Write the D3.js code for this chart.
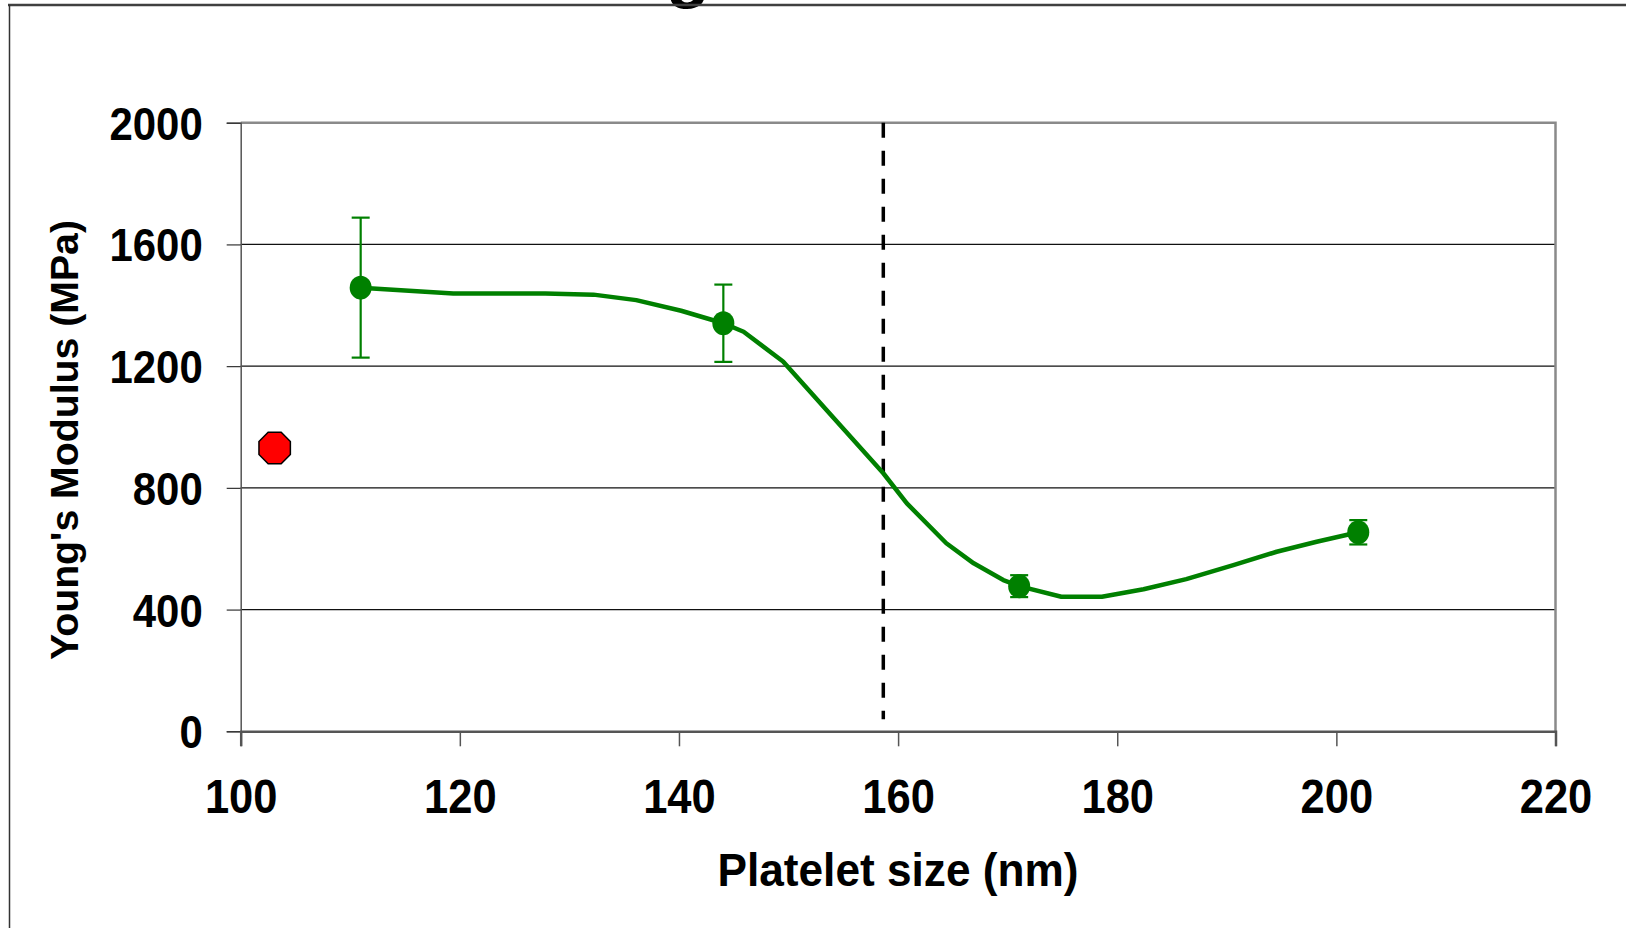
<!DOCTYPE html>
<html>
<head>
<meta charset="utf-8">
<script src="https://cdn.jsdelivr.net/npm/d3@7/dist/d3.min.js"></script>
<style>
  body { margin: 0; background: #fff; }
  text { font-family: "Liberation Sans", Arial, sans-serif; font-weight: bold; fill: #000; }
</style>
</head>
<body>
<div id="chart"></div>
<script>
// measured points (platelet size in nm, modulus in MPa)
var sizes = [110.95, 144.05, 171.05, 202.0];
var moduli = [1458, 1341, 477, 654];
var errors = [230, 127, 36, 40];

// single reference sample (red octagon)
var refSizes = [103.1];
var refModuli = [931];

// smoothed fit line
var fitSizes = [110.95, 119.4, 127.8, 132.2, 136.1, 140.2, 144.05, 145.9, 149.5, 154.1, 158.65, 160.8, 164.4, 166.9, 169.6, 171.05, 174.9, 178.6, 182.4, 186.3, 190.6, 194.55, 198.2, 202.0];
var fitModuli = [1458, 1439, 1439, 1435, 1417, 1382, 1341, 1313, 1215, 1030, 848, 749, 618, 552, 497, 477, 442, 442, 467, 500, 546, 590, 623, 654];

// dashed threshold line
var thresholdSize = 158.65;
var thresholdRange = [40, 2000];

var xTicks = [100, 120, 140, 160, 180, 200, 220];
var yTicks = [0, 400, 800, 1200, 1600, 2000];

var width = 1626, height = 928;
var plotLeft = 240.7, plotRight = 1555.5, plotTop = 122.7, plotBottom = 731.3;

var svg = d3.select("#chart")
            .append("svg")
            .attr("width", width)
            .attr("height", height);

svg.append("rect").attr("width", width).attr("height", height).attr("fill", "#fff");

var x = d3.scaleLinear().domain([100, 220]).range([plotLeft, plotRight]);
var y = d3.scaleLinear().domain([0, 2000]).range([plotBottom, plotTop]);

// clipped title glyph poking in at the top of the frame
svg.append("text")
   .attr("x", 688)
   .attr("y", -6)
   .attr("text-anchor", "middle")
   .style("font-size", "72px")
   .text("g");

// outer frame (top and left edges visible)
svg.append("line").attr("x1", 8).attr("x2", width).attr("y1", 5).attr("y2", 5)
   .attr("stroke", "#404040").attr("stroke-width", 2.5);
svg.append("line").attr("x1", 9.5).attr("x2", 9.5).attr("y1", 5).attr("y2", height)
   .attr("stroke", "#333").attr("stroke-width", 1.5);

// horizontal gridlines
svg.append("g")
   .selectAll("line")
   .data(yTicks.filter(function(d) { return d > 0 && d < 2000; }))
   .enter()
   .append("line")
   .attr("x1", plotLeft).attr("x2", plotRight)
   .attr("y1", function(d) { return y(d); })
   .attr("y2", function(d) { return y(d); })
   .attr("stroke", "#111")
   .attr("stroke-width", 1.2);

// plot area border: top and right in grey
svg.append("path")
   .attr("d", "M" + plotLeft + "," + plotTop + "H" + plotRight + "V" + plotBottom)
   .attr("fill", "none")
   .attr("stroke", "#8a8a8a")
   .attr("stroke-width", 2.5);

// y axis (digits in the source are tall and narrow, so squeeze them)
var yAxis = svg.append("g")
   .attr("transform", "translate(" + plotLeft + ",0)")
   .call(d3.axisLeft(y).tickValues(yTicks).tickSize(14).tickPadding(24).tickFormat(d3.format("d")));
yAxis.select(".domain").attr("stroke", "#555").attr("stroke-width", 1.5);
yAxis.selectAll(".tick line").attr("stroke", "#333").attr("stroke-width", 1.2);
yAxis.selectAll(".tick text")
     .attr("dy", "0.36em")
     .attr("textLength", function(d) { return String(d).length * 23.3; })
     .attr("lengthAdjust", "spacingAndGlyphs")
     .style("font-size", "46px")
     .style("font-family", "'Liberation Sans', Arial, sans-serif")
     .style("font-weight", "bold")
     .attr("fill", "#000");

// x axis
var xAxis = svg.append("g")
   .attr("transform", "translate(0," + plotBottom + ")")
   .call(d3.axisBottom(x).tickValues(xTicks).tickSize(15).tickFormat(d3.format("d")));
xAxis.select(".domain").attr("stroke", "#555").attr("stroke-width", 2.5);
xAxis.selectAll(".tick line").attr("stroke", "#555").attr("stroke-width", 1.5);
xAxis.selectAll(".tick text")
     .attr("y", 82)
     .attr("dy", 0)
     .attr("textLength", function(d) { return String(d).length * 24.2; })
     .attr("lengthAdjust", "spacingAndGlyphs")
     .style("font-size", "49px")
     .style("font-family", "'Liberation Sans', Arial, sans-serif")
     .style("font-weight", "bold")
     .attr("fill", "#000");

// axis titles
svg.append("text")
   .attr("x", 898)
   .attr("y", 886)
   .attr("text-anchor", "middle")
   .attr("textLength", 361)
   .attr("lengthAdjust", "spacingAndGlyphs")
   .style("font-size", "46px")
   .text("Platelet size (nm)");

svg.append("text")
   .attr("transform", "translate(78,440) rotate(-90)")
   .attr("text-anchor", "middle")
   .attr("textLength", 440)
   .attr("lengthAdjust", "spacingAndGlyphs")
   .style("font-size", "39px")
   .text("Young's Modulus (MPa)");

// threshold dashed line
svg.append("line")
   .attr("x1", x(thresholdSize)).attr("x2", x(thresholdSize))
   .attr("y1", y(thresholdRange[1])).attr("y2", y(thresholdRange[0]))
   .attr("stroke", "#000")
   .attr("stroke-width", 3.5)
   .attr("stroke-dasharray", "15,13");

// fit curve
var fitData = fitSizes.map(function(s, i) { return [s, fitModuli[i]]; });
var line = d3.line()
             .x(function(d) { return x(d[0]); })
             .y(function(d) { return y(d[1]); });
svg.append("path")
   .datum(fitData)
   .attr("d", line)
   .attr("fill", "none")
   .attr("stroke", "#008000")
   .attr("stroke-width", 4.5)
   .attr("stroke-linejoin", "round");

// error bars
var points = sizes.map(function(s, i) { return { x: s, y: moduli[i], e: errors[i] }; });
var bars = svg.append("g").attr("stroke", "#008000").attr("stroke-width", 2.2);
points.forEach(function(p) {
    bars.append("line")
        .attr("x1", x(p.x)).attr("x2", x(p.x))
        .attr("y1", y(p.y - p.e)).attr("y2", y(p.y + p.e));
    [p.y - p.e, p.y + p.e].forEach(function(v) {
        bars.append("line")
            .attr("x1", x(p.x) - 9).attr("x2", x(p.x) + 9)
            .attr("y1", y(v)).attr("y2", y(v));
    });
});

// markers
svg.selectAll("ellipse.pt")
   .data(points)
   .enter()
   .append("ellipse")
   .attr("class", "pt")
   .attr("cx", function(d) { return x(d.x); })
   .attr("cy", function(d) { return y(d.y); })
   .attr("rx", 11)
   .attr("ry", 12)
   .attr("fill", "#008000");

// red octagon marker
var oct = d3.range(8).map(function(i) {
    var a = Math.PI / 8 + i * Math.PI / 4;
    return [17 * Math.cos(a), 17 * Math.sin(a)];
});
svg.selectAll("path.ref")
   .data(refSizes)
   .enter()
   .append("path")
   .attr("class", "ref")
   .attr("transform", function(d, i) { return "translate(" + x(d) + "," + y(refModuli[i]) + ")"; })
   .attr("d", "M" + oct.join("L") + "Z")
   .attr("fill", "#ff0000")
   .attr("stroke", "#000")
   .attr("stroke-width", 1.5);
</script>
</body>
</html>
